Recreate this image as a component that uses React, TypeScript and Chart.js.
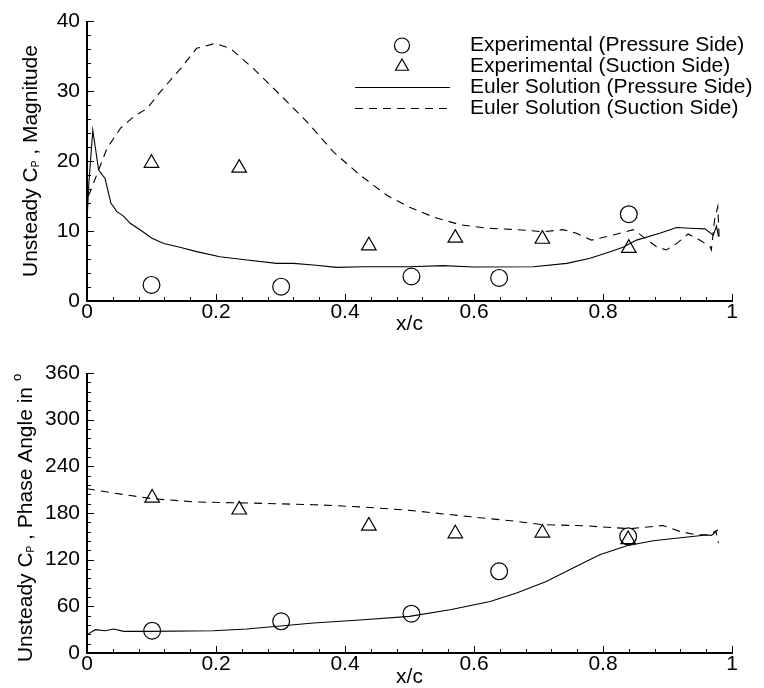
import React, { useEffect, useRef } from "react";
import { Chart, registerables } from "chart.js";

Chart.register(...registerables);

const FONT = "'Liberation Sans', Arial, Helvetica, sans-serif";

// ---- tick labels ----
const xTickValues = [0, 0.2, 0.4, 0.6, 0.8, 1];
const xMinorStep = 0.04;
const magTickValues = [0, 10, 20, 30, 40];
const magMinorStep = 2;
const phaseTickValues = [0, 60, 120, 180, 240, 300, 360];
const phaseMinorStep = 12;

// ---- legend labels ----
const labelExpPressure = "Experimental (Pressure Side)";
const labelExpSuction = "Experimental (Suction Side)";
const labelEulerPressure = "Euler Solution (Pressure Side)";
const labelEulerSuction = "Euler Solution (Suction Side)";

// ---- Magnitude: experimental ----
const magExpPressureX = [0.1, 0.301, 0.503, 0.639, 0.84];
const magExpPressureY = [2.3, 2.05, 3.5, 3.3, 12.4];
const magExpSuctionX = [0.1, 0.236, 0.437, 0.571, 0.706, 0.84];
const magExpSuctionY = [19.7, 19.0, 7.9, 9.0, 8.85, 7.55];

// ---- Magnitude: Euler solution ----
const magEulerPressureX = [0, 0.003, 0.009, 0.018, 0.028, 0.037, 0.046, 0.057, 0.067, 0.085, 0.1, 0.119, 0.144, 0.17, 0.206, 0.248, 0.294, 0.32, 0.351, 0.387, 0.429, 0.5, 0.552, 0.599, 0.692, 0.744, 0.78, 0.811, 0.831, 0.852, 0.888, 0.914, 0.935, 0.958, 0.971, 0.976, 0.979];
const magEulerPressureY = [11.5, 17, 24.4, 18.7, 17.5, 14, 12.8, 12.1, 11.1, 10, 9.0, 8.2, 7.67, 7.05, 6.33, 5.86, 5.38, 5.38, 5.14, 4.8, 4.9, 4.9, 5.05, 4.86, 4.9, 5.38, 6.1, 7.05, 7.67, 8.7, 9.67, 10.5, 10.4, 10.3, 9.4, 10.7, 9.2];
const magEulerSuctionX = [0.002, 0.005, 0.015, 0.031, 0.052, 0.072, 0.093, 0.114, 0.145, 0.17, 0.199, 0.222, 0.258, 0.3, 0.341, 0.382, 0.423, 0.465, 0.5, 0.537, 0.578, 0.62, 0.666, 0.707, 0.738, 0.759, 0.782, 0.816, 0.847, 0.862, 0.883, 0.898, 0.914, 0.932, 0.95, 0.966, 0.968, 0.973, 0.978, 0.98];
const magEulerSuctionY = [15, 15.6, 18, 21.8, 24.7, 26.3, 27.5, 29.9, 33.2, 36.1, 36.8, 36.1, 33.2, 29.4, 25.6, 21.3, 18, 15.1, 13.4, 12.0, 10.9, 10.4, 10.2, 9.9, 10.2, 9.67, 8.7, 9.43, 10.2, 9.2, 7.76, 7.3, 8.2, 9.57, 8.7, 7.76, 7.3, 11.6, 13.5, 9.2];

// ---- Phase: experimental ----
const phaseExpPressureX = [0.101, 0.301, 0.503, 0.639, 0.839];
const phaseExpPressureY = [28.7, 40.7, 50.5, 105, 150];
const phaseExpSuctionX = [0.101, 0.236, 0.437, 0.571, 0.706, 0.839];
const phaseExpSuctionY = [199.4, 184.1, 163.4, 153.5, 154.5, 146];

// ---- Phase: Euler solution ----
const phaseEulerPressureX = [0, 0.013, 0.028, 0.041, 0.057, 0.093, 0.196, 0.248, 0.351, 0.429, 0.5, 0.563, 0.625, 0.666, 0.712, 0.759, 0.795, 0.837, 0.878, 0.924, 0.96, 0.968, 0.973, 0.978];
const phaseEulerPressureY = [23.6, 30, 28.7, 30.8, 27.8, 27.8, 28.7, 30.8, 38.6, 42.8, 47.1, 55.7, 66.3, 77.1, 92, 111.4, 126.4, 138, 144.4, 148.6, 151.7, 151.2, 154.3, 158.5];
const phaseEulerSuctionX = [0, 0.041, 0.101, 0.17, 0.248, 0.351, 0.429, 0.5, 0.589, 0.666, 0.707, 0.769, 0.842, 0.893, 0.919, 0.943, 0.964, 0.975, 0.979];
const phaseEulerSuctionY = [211.2, 205.7, 198.4, 194.1, 192.9, 190.7, 187.7, 183.4, 175.7, 169.2, 165, 163.7, 159.8, 164, 156.4, 152.1, 152.1, 157, 141.4];

const zip = (xs: number[], ys: number[]) => xs.map((x, i) => ({ x, y: ys[i] }));

const markerDataset = (label: string, xs: number[], ys: number[], style: string) => ({
  label,
  data: zip(xs, ys),
  showLine: false,
  pointStyle: style,
  pointRadius: 8.4,
  pointBorderWidth: 1.2,
  pointBorderColor: "#000",
  pointBackgroundColor: "rgba(0,0,0,0)",
  borderColor: "#000",
  backgroundColor: "rgba(0,0,0,0)",
  clip: false,
});

const lineDataset = (label: string, xs: number[], ys: number[], dash: number[]) => ({
  label,
  data: zip(xs, ys),
  showLine: true,
  pointRadius: 0,
  borderColor: "#000",
  borderWidth: 1.1,
  borderDash: dash,
  tension: 0,
  fill: false,
  clip: false,
});

type TitlePart = { text: string; size: number; dy: number };

const tecPlugin = {
  id: "tecAxes",
  afterDraw(chart: any, _args: any, opts: any) {
    const { ctx, chartArea: a, scales } = chart;
    const xs = scales.x;
    const ys = scales.y;
    ctx.save();
    ctx.strokeStyle = "#000";
    ctx.fillStyle = "#000";
    // ticks (inward)
    ctx.lineWidth = 1;
    const isMajor = (list: number[], v: number) => list.some((m) => Math.abs(m - v) < 1e-6);
    const nx = Math.round((xs.max - xs.min) / opts.xMinor);
    for (let i = 0; i <= nx; i++) {
      const v = xs.min + i * opts.xMinor;
      const px = Math.round(xs.getPixelForValue(v)) + 0.5;
      const len = isMajor(opts.xMajor, v) ? 7 : 4;
      ctx.beginPath();
      ctx.moveTo(px, a.bottom);
      ctx.lineTo(px, a.bottom - len);
      ctx.stroke();
    }
    const ny = Math.round((ys.max - ys.min) / opts.yMinor);
    for (let i = 0; i <= ny; i++) {
      const v = ys.min + i * opts.yMinor;
      const py = Math.round(ys.getPixelForValue(v)) + 0.5;
      const len = isMajor(opts.yMajor, v) ? 7 : 4;
      ctx.beginPath();
      ctx.moveTo(a.left, py);
      ctx.lineTo(a.left + len, py);
      ctx.stroke();
    }
    // axis lines
    ctx.lineWidth = 2;
    ctx.beginPath();
    ctx.moveTo(a.left, a.top);
    ctx.lineTo(a.left, a.bottom);
    ctx.lineTo(a.right + 1, a.bottom);
    ctx.stroke();

    // x title
    ctx.font = `21px ${FONT}`;
    ctx.textAlign = "center";
    ctx.textBaseline = "alphabetic";
    ctx.fillText(opts.xTitle, (a.left + a.right) / 2, a.bottom + opts.xTitleOffset);

    // y title (rotated, with sub/superscripts)
    const parts: TitlePart[] = opts.yTitle;
    let total = 0;
    const widths = parts.map((p) => {
      ctx.font = `${p.size}px ${FONT}`;
      const w = ctx.measureText(p.text).width;
      total += w;
      return w;
    });
    ctx.save();
    ctx.translate(opts.yTitleX, (a.top + a.bottom) / 2 + opts.yTitleShift);
    ctx.rotate(-Math.PI / 2);
    ctx.textAlign = "left";
    ctx.textBaseline = "alphabetic";
    let cx = -total / 2;
    parts.forEach((p, i) => {
      ctx.font = `${p.size}px ${FONT}`;
      ctx.fillText(p.text, cx, p.dy);
      cx += widths[i];
    });
    ctx.restore();

    // legend
    if (opts.legend) {
      const L = opts.legend;
      chart.data.datasets.forEach((ds: any, i: number) => {
        const y = L.rows[i];
        ctx.lineWidth = 1.2;
        ctx.setLineDash([]);
        if (ds.showLine) {
          ctx.lineWidth = 1.1;
          ctx.setLineDash(ds.borderDash || []);
          ctx.beginPath();
          ctx.moveTo(L.lineStart, y);
          ctx.lineTo(L.lineEnd, y);
          ctx.stroke();
          ctx.setLineDash([]);
        } else if (ds.pointStyle === "circle") {
          ctx.beginPath();
          ctx.arc(L.markerX, y, L.r, 0, Math.PI * 2);
          ctx.stroke();
        } else {
          const r = L.r;
          ctx.beginPath();
          ctx.moveTo(L.markerX, y - r);
          ctx.lineTo(L.markerX + r * Math.cos(Math.PI / 6), y + r / 2);
          ctx.lineTo(L.markerX - r * Math.cos(Math.PI / 6), y + r / 2);
          ctx.closePath();
          ctx.stroke();
        }
        ctx.font = `21px ${FONT}`;
        ctx.textAlign = "left";
        ctx.textBaseline = "middle";
        ctx.fillText(ds.label, L.textX, y - 0.5);
      });
    }
    ctx.restore();
  },
};

const fmt = (v: number) => String(Number(Number(v).toFixed(2)));

function makeConfig(p: {
  datasets: any[];
  yMax: number;
  yTicks: number[];
  yMinor: number;
  padTop: number;
  xAxisHeight: number;
  yTitle: TitlePart[];
  yTitleX: number;
  yTitleShift: number;
  xTitleOffset: number;
  legend?: any;
}) {
  return {
    type: "scatter",
    data: { datasets: p.datasets },
    options: {
      responsive: false,
      maintainAspectRatio: false,
      animation: false,
      events: [],
      layout: { padding: { top: p.padTop, right: 32, left: 0, bottom: 0 } },
      plugins: {
        legend: { display: false },
        tooltip: { enabled: false },
        tecAxes: {
          xMinor: xMinorStep,
          xMajor: xTickValues,
          yMinor: p.yMinor,
          yMajor: p.yTicks,
          xTitle: "x/c",
          xTitleOffset: p.xTitleOffset,
          yTitle: p.yTitle,
          yTitleX: p.yTitleX,
          yTitleShift: p.yTitleShift,
          legend: p.legend,
        },
      },
      scales: {
        x: {
          type: "linear",
          min: 0,
          max: 1,
          grid: { display: false, drawTicks: false },
          border: { display: false },
          afterBuildTicks: (s: any) => {
            s.ticks = xTickValues.map((v) => ({ value: v }));
          },
          afterFit: (s: any) => {
            s.height = p.xAxisHeight;
          },
          ticks: {
            padding: 1,
            color: "#000",
            autoSkip: false,
            maxRotation: 0,
            font: { family: FONT, size: 21, lineHeight: 1 },
            callback: (v: any) => fmt(v),
          },
        },
        y: {
          type: "linear",
          min: 0,
          max: p.yMax,
          grid: { display: false, drawTicks: false },
          border: { display: false },
          afterBuildTicks: (s: any) => {
            s.ticks = p.yTicks.map((v) => ({ value: v }));
          },
          afterFit: (s: any) => {
            s.width = 87;
          },
          ticks: {
            padding: 7,
            color: "#000",
            autoSkip: false,
            font: { family: FONT, size: 21, lineHeight: 1 },
            callback: (v: any) => fmt(v),
          },
        },
      },
    },
    plugins: [tecPlugin],
  } as any;
}

export default function App() {
  const topRef = useRef<HTMLCanvasElement>(null);
  const botRef = useRef<HTMLCanvasElement>(null);

  useEffect(() => {
    const top = new Chart(
      topRef.current as HTMLCanvasElement,
      makeConfig({
        datasets: [
          markerDataset(labelExpPressure, magExpPressureX, magExpPressureY, "circle"),
          markerDataset(labelExpSuction, magExpSuctionX, magExpSuctionY, "triangle"),
          lineDataset(labelEulerPressure, magEulerPressureX, magEulerPressureY, []),
          lineDataset(labelEulerSuction, magEulerSuctionX, magEulerSuctionY, [8, 6]),
        ],
        yMax: 40,
        yTicks: magTickValues,
        yMinor: magMinorStep,
        padTop: 21,
        xAxisHeight: 43,
        yTitle: [
          { text: "Unsteady C", size: 21, dy: 0 },
          { text: "P", size: 10, dy: 2 },
          { text: " , Magnitude", size: 21, dy: 0 },
        ],
        yTitleX: 37,
        yTitleShift: 0,
        xTitleOffset: 29,
        legend: {
          rows: [45.5, 66.5, 87.5, 108.5],
          markerX: 402,
          r: 7.5,
          lineStart: 355,
          lineEnd: 450,
          textX: 470,
        },
      })
    );
    const bot = new Chart(
      botRef.current as HTMLCanvasElement,
      makeConfig({
        datasets: [
          markerDataset(labelExpPressure, phaseExpPressureX, phaseExpPressureY, "circle"),
          markerDataset(labelExpSuction, phaseExpSuctionX, phaseExpSuctionY, "triangle"),
          lineDataset(labelEulerPressure, phaseEulerPressureX, phaseEulerPressureY, []),
          lineDataset(labelEulerSuction, phaseEulerSuctionX, phaseEulerSuctionY, [8, 6]),
        ],
        yMax: 360,
        yTicks: phaseTickValues,
        yMinor: phaseMinorStep,
        padTop: 29,
        xAxisHeight: 35,
        yTitle: [
          { text: "Unsteady C", size: 21, dy: 0 },
          { text: "P", size: 10, dy: 2 },
          { text: " , Phase Angle in ", size: 21, dy: 0 },
          { text: "o", size: 13, dy: -11 },
        ],
        yTitleX: 32,
        yTitleShift: 5,
        xTitleOffset: 30,
      })
    );
    return () => {
      top.destroy();
      bot.destroy();
    };
  }, []);

  return (
    <div style={{ position: "absolute", left: 0, top: 0, width: 764, height: 688, background: "#fff" }}>
      <canvas ref={topRef} width={764} height={344} style={{ display: "block", width: 764, height: 344 }} />
      <canvas ref={botRef} width={764} height={344} style={{ display: "block", width: 764, height: 344 }} />
    </div>
  );
}
